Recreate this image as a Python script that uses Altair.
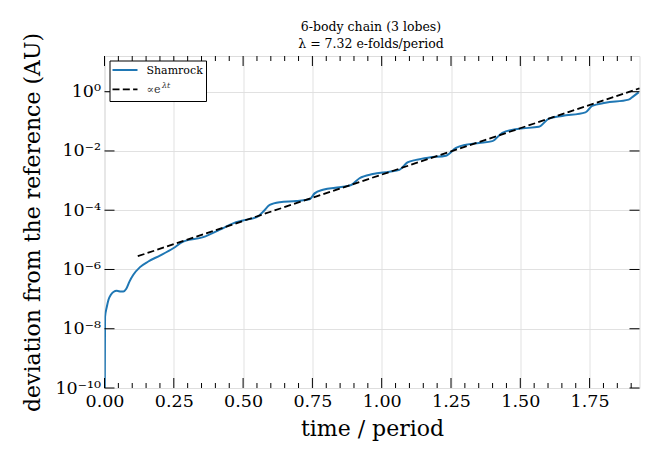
import pandas as pd
import altair as alt

# Shamrock deviation from the reference orbit
t_sham = [0.001, 0.002, 0.0086, 0.0144, 0.023, 0.032, 0.0446, 0.059, 0.068, 0.078,
          0.090, 0.104, 0.128, 0.158, 0.200, 0.248, 0.284, 0.356, 0.416, 0.464,
          0.500, 0.554, 0.572, 0.596, 0.632, 0.692, 0.740, 0.758, 0.788, 0.848,
          0.890, 0.920, 0.968, 1.028, 1.064, 1.093, 1.124, 1.172, 1.232, 1.268,
          1.304, 1.351, 1.399, 1.435, 1.495, 1.567, 1.603, 1.651, 1.735, 1.759,
          1.807, 1.891, 1.909, 1.927]
dev_sham = [1e-10, 2.5e-8, 5.6e-8, 9.5e-8, 1.4e-7, 1.74e-7, 1.9e-7, 1.8e-7, 1.8e-7, 2.2e-7,
            3.9e-7, 6.6e-7, 1.2e-6, 1.86e-6, 2.95e-6, 5.2e-6, 8.7e-6, 1.23e-5, 2.2e-5, 3.6e-5,
            4.5e-5, 6.2e-5, 8.9e-5, 1.5e-4, 1.86e-4, 2.04e-4, 2.34e-4, 3.7e-4, 4.9e-4, 6.0e-4,
            7.1e-4, 1.2e-3, 1.66e-3, 2.0e-3, 2.3e-3, 4.1e-3, 5.0e-3, 6.0e-3, 6.9e-3, 1.26e-2,
            1.62e-2, 1.86e-2, 2.14e-2, 4.1e-2, 5.6e-2, 6.5e-2, 0.123, 0.151, 0.20, 0.33,
            0.42, 0.54, 0.71, 0.95]

# exponential fit, end points (a straight line on the log axis)
t_fit = [0.12, 1.93]
dev_fit = [2.8e-6, 1.3]

x_major = [0.0, 0.25, 0.5, 0.75, 1.0, 1.25, 1.5, 1.75]
x_minor = [0.05, 0.1, 0.15, 0.2, 0.3, 0.35, 0.4, 0.45, 0.55, 0.6, 0.65, 0.7,
           0.8, 0.85, 0.9, 0.95, 1.05, 1.1, 1.15, 1.2, 1.3, 1.35, 1.4, 1.45,
           1.55, 1.6, 1.65, 1.7, 1.8, 1.85, 1.9]
y_major = [1e-10, 1e-8, 1e-6, 1e-4, 1e-2, 1.0]
y_labels = ["10⁻¹⁰", "10⁻⁸", "10⁻⁶", "10⁻⁴", "10⁻²", "10⁰"]

legend_labels = ["Shamrock", "∝e"]
legend_sup = "λt"
title_lines = ["6-body chain (3 lobes)", "λ = 7.32 e-folds/period"]

W, H = 535, 332
FONT = "DejaVu Serif"

label_expr = ""
for v, lab in zip(y_major, y_labels):
    label_expr += f"datum.value < {v * 3} ? '{lab}' : "
label_expr += "''"

x_axis = alt.Axis(values=x_major, format=".2f", ticks=False, tickSize=0, domain=False,
                  grid=True, gridColor="#dedede", gridWidth=0.9, labelFlush=False,
                  labelFont=FONT, labelFontSize=17.5, labelColor="black", labelPadding=4,
                  title="time / period", titleFont=FONT, titleFontSize=22,
                  titleFontWeight="normal", titleColor="black", titleY=40,
                  titleBaseline="middle")
y_axis = alt.Axis(values=y_major, labelExpr=label_expr, ticks=False, tickSize=0,
                  domain=False, grid=True, gridColor="#dedede", gridWidth=0.9,
                  labelFlush=False,
                  labelFont=FONT, labelFontSize=17.5, labelColor="black", labelPadding=4,
                  title="deviation from the reference (AU)", titleFont=FONT,
                  titleFontSize=22, titleFontWeight="normal", titleColor="black",
                  titleX=-72, titleY=H / 2, titleAngle=-90, titleAlign="center",
                  titleBaseline="middle")

xs = alt.Scale(domain=[0, 1.93], nice=False, zero=False)
ys = alt.Scale(type="log", domain=[1e-10, 16], nice=False)


def X(f="t"):
    return alt.X(f"{f}:Q", scale=xs, axis=x_axis)


def Y(f="dev"):
    return alt.Y(f"{f}:Q", scale=ys, axis=y_axis)


sham = pd.DataFrame({"t": t_sham, "dev": dev_sham})
fit = pd.DataFrame({"t": t_fit, "dev": dev_fit})
xmaj = pd.DataFrame({"t": x_major})
xmin = pd.DataFrame({"t": x_minor})
ymaj = pd.DataFrame({"dev": y_major})

line = alt.Chart(sham).mark_line(color="#1f77b4", strokeWidth=2,
                                 interpolate="monotone", clip=True).encode(x=X(), y=Y())
fitline = alt.Chart(fit).mark_line(color="black", strokeWidth=1.8,
                                   strokeDash=[7, 3.3]).encode(x=X(), y=Y())

tk = dict(color="black", strokeWidth=1)
ticks = [
    alt.Chart(xmaj).mark_rule(**tk).encode(x=X(), y=alt.value(H), y2=alt.value(H - 10)),
    alt.Chart(xmaj).mark_rule(**tk).encode(x=X(), y=alt.value(0), y2=alt.value(10)),
    alt.Chart(xmin).mark_rule(**tk).encode(x=X(), y=alt.value(H), y2=alt.value(H - 5)),
    alt.Chart(xmin).mark_rule(**tk).encode(x=X(), y=alt.value(0), y2=alt.value(5)),
    alt.Chart(ymaj).mark_rule(**tk).encode(y=Y(), x=alt.value(0), x2=alt.value(10)),
    alt.Chart(ymaj).mark_rule(**tk).encode(y=Y(), x=alt.value(W), x2=alt.value(W - 10)),
]

one = pd.DataFrame({"k": [0]})
txt = dict(font=FONT, align="center", baseline="middle", color="black")
title1 = alt.Chart(one).mark_text(fontSize=12.5, **txt).encode(
    x=alt.value(W / 2 - 1), y=alt.value(-29.5), text=alt.value(title_lines[0]))
title2 = alt.Chart(one).mark_text(fontSize=12.5, **txt).encode(
    x=alt.value(W / 2 - 1), y=alt.value(-12.5), text=alt.value(title_lines[1]))

leg_box = alt.Chart(one).mark_rect(fill="white", stroke="black", strokeWidth=1).encode(
    x=alt.value(5.5), x2=alt.value(102), y=alt.value(5), y2=alt.value(45.5))
leg_l1 = alt.Chart(one).mark_rule(color="#1f77b4", strokeWidth=2).encode(
    x=alt.value(8), x2=alt.value(33), y=alt.value(14))
leg_l2 = alt.Chart(one).mark_rule(color="black", strokeWidth=1.8, strokeDash=[7, 3.3]).encode(
    x=alt.value(8), x2=alt.value(33), y=alt.value(33.3))
leg_t1 = alt.Chart(one).mark_text(font=FONT, fontSize=11, align="left", baseline="middle",
                                  color="black").encode(
    x=alt.value(42), y=alt.value(14.5), text=alt.value(legend_labels[0]))
leg_t2 = alt.Chart(one).mark_text(font=FONT, fontSize=11, align="left", baseline="middle",
                                  color="#333").encode(
    x=alt.value(42), y=alt.value(34), text=alt.value(legend_labels[1]))
leg_t3 = alt.Chart(one).mark_text(font=FONT, fontSize=8, fontStyle="italic", align="left",
                                  baseline="middle", color="#333").encode(
    x=alt.value(57.5), y=alt.value(29.5), text=alt.value(legend_sup))

chart = alt.layer(
    line, fitline, *ticks, title1, title2,
    leg_box, leg_l1, leg_l2, leg_t1, leg_t2, leg_t3
).properties(
    width=W, height=H,
    autosize=alt.AutoSizeParams(type="none"),
    padding={"left": 96.5, "top": 48, "right": 12.5, "bottom": 63},
).configure_view(stroke="black", strokeWidth=1.1).configure(background="white")

chart.save("out.html", embed_options={"renderer": "svg", "actions": False})
